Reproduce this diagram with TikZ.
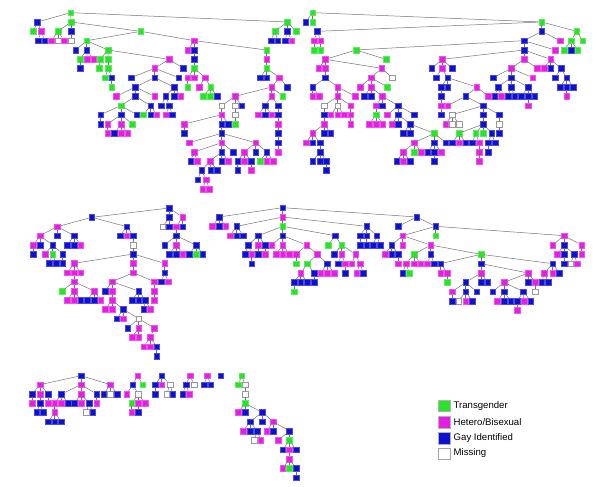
\documentclass[tikz,border=0pt]{standalone}
\usepackage{fontspec}
\setmainfont{Liberation Sans}
\definecolor{cG}{RGB}{40,228,40}
\definecolor{cM}{RGB}{230,30,228}
\definecolor{cB}{RGB}{15,15,210}
\definecolor{edgec}{RGB}{115,115,115}
\tikzset{
 sq/.style={rectangle, minimum size=5.7pt, inner sep=0pt, line width=0.35pt},
 nG/.style={sq, fill=cG, draw=cG!75!white},
 nM/.style={sq, fill=cM, draw=cM!75!white},
 nB/.style={sq, fill=cB, draw=cB!75!white},
 nW/.style={sq, fill=white, draw=gray!80},
 ed/.style={draw=edgec, line width=0.5pt},
 lgbox/.style={rectangle, minimum size=11.5pt, inner sep=0pt, line width=0.4pt},
 lgtext/.style={anchor=west, inner sep=0pt, font=\fontsize{9.6}{11}\selectfont}
}
\newcommand\Rt[3]{\node[n#1] (\pfx#2x#3) at (#2,#3) {};}
\newcommand\Kd[5]{\node[n#1] (\pfx#2x#3) at (#2,#3) {};\draw[ed] (\pfx#4x#5) -- (\pfx#2x#3);}
\newcommand\Xk[4]{\node[n#1] (\pfx#2x#3) at (#2,#3) {};\draw[ed] (#4) -- (\pfx#2x#3);}
\begin{document}
\begin{tikzpicture}
\useasboundingbox (0pt,0pt) rectangle (600pt,-487pt);
% ---------------- tree 1 ----------------
\begin{scope}[shift={(0pt,0pt)},x=0.33333pt,y=-0.33333pt]
\def\pfx{a}
\Rt{G}{212}{38}
\Kd{B}{112}{66}{212}{38}
\Kd{G}{100}{94}{112}{66}
\Kd{M}{124}{94}{112}{66}
\Kd{B}{114}{122}{124}{94}
\Kd{B}{134}{122}{124}{94}
\Kd{G}{213}{66}{212}{38}
\Kd{G}{174}{94}{213}{66}
\Kd{M}{154}{122}{174}{94}
\Kd{W}{174}{122}{174}{94}
\Kd{M}{193}{122}{174}{94}
\Kd{B}{213}{94}{213}{66}
\Kd{W}{213}{122}{213}{94}
\Kd{G}{422}{94}{213}{66}
\Kd{G}{260}{122}{422}{94}
\Kd{B}{227}{150}{260}{122}
\Kd{B}{260}{150}{260}{122}
\Kd{G}{240}{178}{260}{150}
\Kd{B}{240}{205}{240}{178}
\Kd{M}{262}{178}{260}{150}
\Kd{M}{281}{178}{260}{150}
\Kd{G}{324}{150}{260}{122}
\Kd{G}{300}{178}{324}{150}
\Kd{G}{298}{205}{300}{178}
\Kd{G}{325}{178}{324}{150}
\Kd{G}{325}{205}{325}{178}
\Kd{G}{315}{233}{325}{205}
\Kd{B}{335}{233}{325}{205}
\Kd{G}{335}{261}{335}{233}
\Kd{M}{507}{178}{324}{150}
\Kd{M}{464}{205}{507}{178}
\Kd{B}{393}{233}{464}{205}
\Kd{B}{464}{233}{464}{205}
\Kd{B}{406}{261}{464}{233}
\Kd{M}{349}{289}{406}{261}
\Kd{B}{406}{289}{406}{261}
\Kd{G}{363}{317}{406}{289}
\Kd{B}{302}{344}{363}{317}
\Kd{B}{302}{372}{302}{344}
\Kd{B}{363}{344}{363}{317}
\Kd{M}{323}{372}{363}{344}
\Kd{M}{323}{400}{323}{372}
\Kd{M}{363}{372}{363}{344}
\Kd{B}{343}{400}{363}{372}
\Kd{M}{363}{400}{363}{372}
\Kd{M}{383}{400}{363}{372}
\Kd{G}{397}{372}{363}{344}
\Kd{B}{410}{344}{363}{317}
\Kd{B}{452}{317}{406}{289}
\Kd{G}{430}{344}{452}{317}
\Kd{B}{452}{344}{452}{317}
\Kd{M}{470}{344}{452}{317}
\Kd{M}{464}{289}{406}{261}
\Kd{B}{522}{261}{464}{233}
\Kd{B}{497}{289}{522}{261}
\Kd{B}{484}{317}{497}{289}
\Kd{B}{508}{317}{497}{289}
\Kd{M}{498}{344}{508}{317}
\Kd{B}{517}{344}{508}{317}
\Kd{B}{522}{289}{522}{261}
\Kd{M}{542}{289}{522}{261}
\Kd{B}{536}{233}{464}{205}
\Kd{B}{550}{205}{507}{178}
\Kd{M}{583}{122}{422}{94}
\Kd{M}{563}{150}{583}{122}
\Kd{B}{583}{150}{583}{122}
\Kd{B}{583}{178}{583}{150}
\Kd{G}{583}{205}{583}{178}
\Kd{M}{563}{233}{583}{205}
\Kd{G}{563}{261}{563}{233}
\Kd{M}{583}{233}{583}{205}
\Kd{M}{615}{233}{583}{205}
\Kd{M}{597}{261}{615}{233}
\Kd{G}{632}{261}{615}{233}
\Kd{G}{610}{289}{632}{261}
\Kd{G}{630}{289}{632}{261}
\Kd{B}{651}{289}{632}{261}
\Kd{G}{800}{150}{583}{122}
\Kd{M}{800}{178}{800}{150}
\Kd{G}{800}{205}{800}{178}
\Kd{B}{780}{233}{800}{205}
\Kd{B}{800}{233}{800}{205}
\Kd{M}{838}{233}{800}{205}
\Kd{M}{815}{261}{838}{233}
\Kd{B}{862}{261}{838}{233}
\Kd{M}{705}{289}{815}{261}
\Kd{M}{815}{289}{815}{261}
\Kd{G}{848}{289}{815}{261}
\Kd{B}{795}{317}{815}{289}
\Kd{B}{835}{317}{815}{289}
\Kd{M}{775}{344}{795}{317}
\Kd{B}{795}{344}{795}{317}
\Kd{M}{815}{344}{795}{317}
\Kd{B}{835}{344}{835}{317}
\Kd{M}{835}{372}{835}{344}
\Kd{B}{835}{400}{835}{372}
\Kd{B}{835}{428}{835}{400}
\Kd{M}{835}{456}{835}{428}
\Kd{W}{665}{317}{705}{289}
\Kd{W}{705}{317}{705}{289}
\Kd{B}{725}{317}{705}{289}
\Kd{W}{705}{344}{705}{317}
\Kd{G}{705}{372}{705}{344}
\Kd{M}{665}{344}{665}{317}
\Kd{M}{553}{372}{665}{344}
\Kd{B}{553}{400}{553}{372}
\Kd{B}{665}{372}{665}{344}
\Kd{B}{685}{372}{665}{344}
\Kd{B}{665}{400}{665}{372}
\Kd{M}{567}{428}{665}{400}
\Kd{M}{665}{428}{665}{400}
\Kd{M}{767}{428}{665}{400}
\Kd{M}{582}{456}{665}{428}
\Kd{B}{572}{483}{582}{456}
\Kd{M}{592}{483}{582}{456}
\Kd{B}{665}{456}{665}{428}
\Kd{B}{700}{456}{665}{428}
\Kd{M}{630}{483}{665}{456}
\Kd{B}{665}{483}{665}{456}
\Kd{M}{685}{483}{665}{456}
\Kd{B}{605}{511}{630}{483}
\Kd{B}{632}{511}{630}{483}
\Kd{B}{652}{511}{630}{483}
\Kd{B}{593}{539}{605}{511}
\Kd{M}{618}{539}{605}{511}
\Kd{M}{608}{567}{618}{539}
\Kd{M}{628}{567}{618}{539}
\Kd{M}{733}{456}{767}{428}
\Kd{B}{767}{456}{767}{428}
\Kd{B}{800}{456}{767}{428}
\Kd{B}{713}{483}{733}{456}
\Kd{M}{733}{483}{733}{456}
\Kd{B}{753}{483}{733}{456}
\Kd{B}{713}{511}{713}{483}
\Kd{M}{753}{511}{753}{483}
\Kd{G}{780}{483}{800}{456}
\Kd{M}{800}{483}{800}{456}
\Kd{M}{820}{483}{800}{456}
\Kd{G}{862}{66}{212}{38}
\Kd{G}{825}{94}{862}{66}
\Kd{B}{813}{122}{825}{94}
\Kd{B}{833}{122}{825}{94}
\Kd{B}{862}{94}{862}{66}
\Kd{B}{855}{122}{862}{94}
\Kd{M}{875}{122}{862}{94}
\Kd{G}{888}{94}{862}{66}
\end{scope}
% ---------------- tree 2 ----------------
\begin{scope}[shift={(300pt,0pt)},x=0.33333pt,y=-0.33333pt]
\def\pfx{b}
\Rt{G}{38}{38}
\Kd{B}{17}{66}{38}{38}
\Kd{G}{38}{66}{38}{38}
\Kd{G}{725}{66}{38}{38}
\Kd{B}{52}{94}{725}{66}
\Kd{M}{42}{122}{52}{94}
\Kd{M}{62}{122}{52}{94}
\Kd{G}{42}{150}{42}{122}
\Kd{G}{62}{150}{62}{122}
\Kd{B}{725}{94}{725}{66}
\Kd{B}{672}{122}{725}{94}
\Kd{M}{780}{122}{725}{94}
\Kd{G}{830}{94}{725}{66}
\Kd{G}{813}{122}{830}{94}
\Kd{G}{848}{122}{830}{94}
\Kd{G}{793}{150}{813}{122}
\Kd{B}{813}{150}{813}{122}
\Kd{G}{833}{150}{813}{122}
\Kd{G}{168}{150}{672}{122}
\Kd{B}{672}{150}{672}{122}
\Kd{M}{765}{150}{672}{122}
\Kd{M}{76}{178}{168}{150}
\Kd{G}{258}{178}{168}{150}
\Kd{M}{56}{205}{76}{178}
\Kd{M}{76}{205}{76}{178}
\Kd{M}{245}{205}{76}{178}
\Kd{B}{76}{233}{76}{205}
\Kd{B}{38}{261}{76}{233}
\Kd{M}{113}{261}{76}{233}
\Kd{M}{38}{289}{38}{261}
\Kd{M}{58}{289}{38}{261}
\Kd{M}{113}{289}{113}{261}
\Kd{M}{166}{289}{113}{261}
\Kd{W}{72}{317}{113}{289}
\Kd{W}{113}{317}{113}{289}
\Kd{M}{152}{317}{113}{289}
\Kd{B}{72}{344}{72}{317}
\Kd{M}{72}{372}{72}{344}
\Kd{M}{38}{400}{72}{372}
\Kd{B}{72}{400}{72}{372}
\Kd{B}{92}{400}{72}{372}
\Kd{M}{18}{428}{38}{400}
\Kd{B}{38}{428}{38}{400}
\Kd{B}{60}{428}{38}{400}
\Kd{B}{60}{456}{60}{428}
\Kd{B}{38}{483}{60}{456}
\Kd{B}{60}{483}{60}{456}
\Kd{B}{78}{483}{60}{456}
\Kd{B}{78}{511}{78}{483}
\Kd{M}{92}{344}{113}{317}
\Kd{M}{113}{344}{113}{317}
\Kd{M}{132}{344}{113}{317}
\Kd{M}{152}{344}{152}{317}
\Kd{M}{152}{372}{152}{344}
\Kd{W}{276}{233}{245}{205}
\Kd{M}{213}{233}{245}{205}
\Kd{M}{180}{261}{213}{233}
\Kd{M}{213}{261}{213}{233}
\Kd{G}{262}{261}{213}{233}
\Kd{B}{193}{289}{213}{261}
\Kd{B}{213}{289}{213}{261}
\Kd{M}{247}{289}{213}{261}
\Kd{M}{228}{317}{247}{289}
\Kd{B}{247}{317}{247}{289}
\Kd{B}{295}{317}{247}{289}
\Kd{G}{228}{344}{228}{317}
\Kd{M}{208}{372}{228}{344}
\Kd{M}{228}{372}{228}{344}
\Kd{M}{248}{372}{228}{344}
\Kd{M}{262}{344}{295}{317}
\Kd{B}{295}{344}{295}{317}
\Kd{B}{343}{344}{295}{317}
\Kd{M}{276}{372}{295}{344}
\Kd{B}{295}{372}{295}{344}
\Kd{B}{330}{372}{295}{344}
\Kd{B}{310}{400}{330}{372}
\Kd{B}{330}{400}{330}{372}
\Kd{G}{403}{400}{330}{372}
\Kd{M}{343}{428}{403}{400}
\Kd{B}{403}{428}{403}{400}
\Kd{B}{437}{428}{403}{400}
\Kd{M}{310}{456}{343}{428}
\Kd{G}{343}{456}{343}{428}
\Kd{M}{363}{456}{343}{428}
\Kd{B}{290}{483}{310}{456}
\Kd{M}{310}{483}{310}{456}
\Kd{B}{330}{483}{310}{456}
\Kd{B}{383}{456}{403}{428}
\Kd{B}{403}{456}{403}{428}
\Kd{M}{423}{456}{403}{428}
\Kd{B}{403}{483}{403}{456}
\Kd{M}{426}{178}{672}{150}
\Kd{M}{672}{178}{672}{150}
\Kd{M}{752}{178}{672}{150}
\Kd{B}{395}{205}{426}{178}
\Kd{M}{426}{205}{426}{178}
\Kd{B}{457}{205}{426}{178}
\Kd{B}{408}{233}{426}{205}
\Kd{B}{443}{233}{426}{205}
\Kd{B}{423}{261}{443}{233}
\Kd{B}{443}{261}{443}{233}
\Kd{M}{530}{261}{443}{233}
\Kd{B}{423}{289}{423}{261}
\Kd{M}{423}{317}{423}{289}
\Kd{B}{423}{344}{423}{317}
\Kd{B}{497}{289}{530}{261}
\Kd{M}{565}{289}{530}{261}
\Kd{M}{443}{317}{497}{289}
\Kd{B}{550}{317}{497}{289}
\Kd{W}{457}{344}{550}{317}
\Kd{B}{550}{344}{550}{317}
\Kd{B}{598}{344}{550}{317}
\Kd{M}{437}{372}{457}{344}
\Kd{W}{457}{372}{457}{344}
\Kd{W}{477}{372}{457}{344}
\Kd{B}{550}{372}{550}{344}
\Kd{G}{477}{400}{550}{372}
\Kd{G}{527}{400}{550}{372}
\Kd{G}{550}{400}{550}{372}
\Kd{B}{575}{400}{550}{372}
\Kd{B}{457}{428}{477}{400}
\Kd{M}{477}{428}{477}{400}
\Kd{B}{497}{428}{477}{400}
\Kd{B}{517}{428}{527}{400}
\Kd{M}{537}{428}{527}{400}
\Kd{M}{537}{456}{537}{428}
\Kd{M}{537}{483}{537}{456}
\Kd{B}{565}{428}{575}{400}
\Kd{B}{585}{428}{575}{400}
\Kd{B}{565}{456}{565}{428}
\Kd{W}{598}{372}{598}{344}
\Kd{B}{598}{400}{598}{372}
\Kd{M}{633}{205}{672}{178}
\Kd{M}{712}{205}{672}{178}
\Kd{M}{732}{205}{752}{178}
\Kd{B}{752}{205}{752}{178}
\Kd{B}{783}{205}{752}{178}
\Kd{B}{580}{233}{633}{205}
\Kd{B}{633}{233}{633}{205}
\Kd{M}{698}{233}{633}{205}
\Kd{B}{594}{261}{633}{233}
\Kd{B}{633}{261}{633}{233}
\Kd{B}{684}{261}{633}{233}
\Kd{B}{584}{289}{594}{261}
\Kd{M}{604}{289}{594}{261}
\Kd{B}{624}{289}{633}{261}
\Kd{B}{644}{289}{633}{261}
\Kd{B}{664}{289}{684}{261}
\Kd{B}{684}{289}{684}{261}
\Kd{B}{704}{289}{684}{261}
\Kd{M}{684}{317}{684}{289}
\Kd{B}{765}{233}{783}{205}
\Kd{B}{800}{233}{783}{205}
\Kd{B}{780}{261}{800}{233}
\Kd{B}{800}{261}{800}{233}
\Kd{B}{820}{261}{800}{233}
\Kd{M}{800}{289}{800}{261}
\end{scope}
% ---------------- tree 3 ----------------
\begin{scope}[shift={(0pt,-190pt)},x=0.33333pt,y=-0.33333pt]
\def\pfx{c}
\Rt{B}{508}{54}
\Kd{B}{275}{82}{508}{54}
\Kd{M}{172}{110}{275}{82}
\Kd{M}{120}{137}{172}{110}
\Kd{M}{100}{165}{120}{137}
\Kd{B}{100}{192}{100}{165}
\Kd{B}{120}{165}{120}{137}
\Kd{B}{158}{165}{120}{137}
\Kd{M}{135}{192}{158}{165}
\Kd{G}{158}{192}{158}{165}
\Kd{B}{188}{192}{158}{165}
\Kd{B}{148}{220}{158}{192}
\Kd{B}{168}{220}{158}{192}
\Kd{B}{188}{220}{188}{192}
\Kd{B}{172}{137}{172}{110}
\Kd{B}{222}{137}{172}{110}
\Kd{B}{202}{165}{222}{137}
\Kd{B}{222}{165}{222}{137}
\Kd{M}{242}{165}{222}{137}
\Kd{B}{380}{110}{275}{82}
\Kd{B}{360}{137}{380}{110}
\Kd{M}{380}{137}{380}{110}
\Kd{B}{400}{137}{380}{110}
\Kd{W}{400}{165}{400}{137}
\Kd{B}{400}{192}{400}{165}
\Kd{M}{222}{220}{400}{192}
\Kd{M}{202}{248}{222}{220}
\Kd{M}{222}{248}{222}{220}
\Kd{M}{242}{248}{222}{220}
\Kd{M}{222}{275}{222}{248}
\Kd{G}{187}{303}{222}{275}
\Kd{M}{222}{303}{222}{275}
\Kd{M}{282}{303}{222}{275}
\Kd{M}{202}{330}{222}{303}
\Kd{M}{222}{330}{222}{303}
\Kd{B}{242}{330}{222}{303}
\Kd{B}{262}{330}{282}{303}
\Kd{B}{282}{330}{282}{303}
\Kd{M}{302}{330}{282}{303}
\Kd{M}{400}{220}{400}{192}
\Kd{M}{400}{248}{400}{220}
\Kd{M}{336}{275}{400}{248}
\Kd{M}{463}{275}{400}{248}
\Kd{B}{316}{303}{336}{275}
\Kd{M}{336}{303}{336}{275}
\Kd{B}{416}{303}{336}{275}
\Kd{M}{336}{330}{336}{303}
\Kd{M}{316}{358}{336}{330}
\Kd{M}{336}{358}{336}{330}
\Kd{B}{370}{358}{336}{330}
\Kd{B}{350}{386}{370}{358}
\Kd{M}{370}{386}{370}{358}
\Kd{W}{416}{386}{370}{358}
\Kd{B}{383}{414}{416}{386}
\Kd{M}{416}{414}{416}{386}
\Kd{M}{463}{414}{416}{386}
\Kd{M}{396}{442}{416}{414}
\Kd{M}{416}{442}{416}{414}
\Kd{M}{451}{442}{463}{414}
\Kd{M}{431}{470}{451}{442}
\Kd{M}{451}{470}{451}{442}
\Kd{B}{470}{470}{451}{442}
\Kd{B}{470}{498}{470}{470}
\Kd{B}{396}{330}{416}{303}
\Kd{B}{416}{330}{416}{303}
\Kd{B}{436}{330}{416}{303}
\Kd{B}{431}{358}{436}{330}
\Kd{M}{451}{358}{436}{330}
\Kd{M}{463}{303}{463}{275}
\Kd{M}{463}{330}{463}{303}
\Kd{M}{494}{220}{400}{192}
\Kd{B}{494}{248}{494}{220}
\Kd{B}{484}{275}{494}{248}
\Kd{M}{504}{275}{494}{248}
\Kd{B}{508}{82}{508}{54}
\Kd{W}{488}{110}{508}{82}
\Kd{B}{508}{110}{508}{82}
\Kd{M}{548}{82}{508}{54}
\Kd{M}{528}{110}{548}{82}
\Kd{B}{548}{110}{548}{82}
\Kd{B}{528}{137}{528}{110}
\Kd{B}{494}{165}{528}{137}
\Kd{M}{528}{165}{528}{137}
\Kd{B}{588}{165}{528}{137}
\Kd{B}{508}{192}{528}{165}
\Kd{B}{528}{192}{528}{165}
\Kd{M}{548}{192}{528}{165}
\Kd{B}{568}{192}{588}{165}
\Kd{G}{588}{192}{588}{165}
\Kd{B}{608}{192}{588}{165}
\end{scope}
% ---------------- tree 4 ----------------
\begin{scope}[shift={(200pt,-195pt)},x=0.33333pt,y=-0.33333pt]
\def\pfx{d}
\Rt{B}{248}{38}
\Kd{B}{57}{66}{248}{38}
\Kd{M}{37}{94}{57}{66}
\Kd{B}{57}{94}{57}{66}
\Kd{M}{77}{94}{57}{66}
\Kd{M}{248}{66}{248}{38}
\Kd{B}{110}{94}{248}{66}
\Kd{M}{90}{122}{110}{94}
\Kd{B}{110}{122}{110}{94}
\Kd{B}{130}{122}{110}{94}
\Kd{G}{248}{94}{248}{66}
\Kd{B}{175}{122}{248}{94}
\Kd{B}{145}{150}{175}{122}
\Kd{B}{135}{178}{145}{150}
\Kd{M}{155}{178}{145}{150}
\Kd{B}{155}{206}{155}{178}
\Kd{M}{175}{150}{175}{122}
\Kd{B}{175}{178}{175}{150}
\Kd{B}{195}{150}{175}{122}
\Kd{M}{195}{178}{195}{150}
\Kd{B}{248}{122}{248}{94}
\Kd{M}{215}{150}{248}{122}
\Kd{M}{248}{150}{248}{122}
\Kd{M}{228}{178}{248}{150}
\Kd{M}{248}{178}{248}{150}
\Kd{M}{268}{178}{248}{150}
\Kd{M}{320}{150}{248}{122}
\Kd{M}{288}{178}{320}{150}
\Kd{G}{288}{206}{288}{178}
\Kd{M}{352}{178}{320}{150}
\Kd{G}{322}{206}{352}{178}
\Kd{M}{302}{234}{322}{206}
\Kd{B}{282}{262}{302}{234}
\Kd{B}{302}{262}{302}{234}
\Kd{B}{322}{262}{302}{234}
\Kd{G}{282}{290}{282}{262}
\Kd{B}{342}{234}{322}{206}
\Kd{B}{342}{262}{342}{234}
\Kd{B}{382}{206}{352}{178}
\Kd{M}{362}{234}{382}{206}
\Kd{M}{382}{234}{382}{206}
\Kd{M}{402}{234}{382}{206}
\Kd{B}{405}{122}{248}{94}
\Kd{G}{385}{150}{405}{122}
\Kd{G}{425}{150}{405}{122}
\Kd{B}{402}{178}{425}{150}
\Kd{M}{425}{178}{425}{150}
\Kd{M}{467}{178}{425}{150}
\Kd{B}{415}{206}{425}{178}
\Kd{M}{435}{206}{425}{178}
\Kd{B}{435}{234}{435}{206}
\Kd{M}{455}{206}{467}{178}
\Kd{M}{480}{206}{467}{178}
\Kd{M}{470}{234}{480}{206}
\Kd{B}{490}{234}{480}{206}
\Kd{B}{500}{94}{248}{66}
\Kd{B}{480}{122}{500}{94}
\Kd{B}{500}{122}{500}{94}
\Kd{B}{530}{122}{500}{94}
\Kd{B}{480}{150}{480}{122}
\Kd{B}{500}{150}{500}{122}
\Kd{B}{520}{150}{530}{122}
\Kd{B}{540}{150}{530}{122}
\end{scope}
\begin{scope}[shift={(390pt,-195pt)},x=0.33333pt,y=-0.33333pt]
\def\pfx{e}
\Xk{B}{80}{66}{d248x38}
\Kd{B}{25}{94}{80}{66}
\Kd{B}{137}{94}{80}{66}
\Kd{M}{38}{122}{137}{94}
\Kd{G}{137}{122}{137}{94}
\Kd{M}{522}{122}{137}{94}
\Kd{B}{5}{150}{38}{122}
\Kd{M}{38}{150}{38}{122}
\Kd{M}{122}{150}{38}{122}
\Kd{M}{-15}{178}{5}{150}
\Kd{B}{5}{178}{5}{150}
\Kd{B}{25}{178}{5}{150}
\Kd{M}{25}{206}{25}{178}
\Kd{G}{72}{178}{122}{150}
\Kd{B}{122}{178}{122}{150}
\Kd{G}{273}{178}{122}{150}
\Kd{M}{48}{206}{72}{178}
\Kd{M}{72}{206}{72}{178}
\Kd{M}{92}{206}{72}{178}
\Kd{B}{38}{234}{48}{206}
\Kd{G}{58}{234}{48}{206}
\Kd{M}{112}{206}{122}{178}
\Kd{B}{132}{206}{122}{178}
\Kd{B}{152}{206}{273}{178}
\Kd{M}{152}{234}{152}{206}
\Kd{M}{172}{234}{152}{206}
\Kd{G}{172}{262}{172}{234}
\Kd{B}{273}{206}{273}{178}
\Kd{B}{488}{206}{273}{178}
\Kd{M}{273}{234}{273}{206}
\Kd{M}{415}{234}{273}{206}
\Kd{B}{227}{262}{273}{234}
\Kd{B}{273}{262}{273}{234}
\Kd{B}{293}{262}{273}{234}
\Kd{M}{186}{290}{227}{262}
\Kd{B}{227}{290}{227}{262}
\Kd{B}{260}{290}{227}{262}
\Kd{B}{186}{318}{186}{290}
\Kd{W}{206}{318}{227}{290}
\Kd{M}{227}{318}{227}{290}
\Kd{B}{247}{318}{227}{290}
\Kd{M}{342}{262}{415}{234}
\Kd{B}{415}{262}{415}{234}
\Kd{M}{435}{262}{415}{234}
\Kd{B}{308}{290}{342}{262}
\Kd{B}{342}{290}{342}{262}
\Kd{B}{400}{290}{342}{262}
\Kd{M}{322}{318}{342}{290}
\Kd{B}{342}{318}{342}{290}
\Kd{B}{362}{318}{342}{290}
\Kd{B}{382}{318}{400}{290}
\Kd{M}{402}{318}{400}{290}
\Kd{B}{422}{318}{400}{290}
\Kd{M}{382}{346}{382}{318}
\Kd{W}{435}{290}{435}{262}
\Kd{M}{463}{234}{488}{206}
\Kd{M}{488}{234}{488}{206}
\Kd{B}{508}{234}{488}{206}
\Kd{B}{455}{262}{463}{234}
\Kd{B}{475}{262}{463}{234}
\Kd{M}{488}{150}{522}{122}
\Kd{B}{522}{150}{522}{122}
\Kd{M}{575}{150}{522}{122}
\Kd{M}{502}{178}{522}{150}
\Kd{B}{522}{178}{522}{150}
\Kd{B}{552}{178}{522}{150}
\Kd{B}{522}{206}{522}{178}
\Kd{W}{542}{206}{552}{178}
\Kd{M}{562}{206}{552}{178}
\Kd{M}{575}{178}{575}{150}
\end{scope}
% ---------------- bottom trees ----------------
\begin{scope}[shift={(0pt,-350pt)},x=0.33333pt,y=-0.33333pt]
\def\pfx{f}
\Rt{B}{243}{77}
\Kd{M}{120}{104}{243}{77}
\Kd{B}{96}{132}{120}{104}
\Kd{M}{96}{160}{96}{132}
\Kd{M}{120}{132}{120}{104}
\Kd{B}{120}{160}{120}{132}
\Kd{B}{110}{187}{120}{160}
\Kd{B}{130}{187}{120}{160}
\Kd{B}{145}{132}{120}{104}
\Kd{M}{145}{160}{145}{132}
\Kd{M}{243}{104}{243}{77}
\Kd{B}{184}{132}{243}{104}
\Kd{M}{164}{160}{184}{132}
\Kd{M}{164}{187}{164}{160}
\Kd{B}{145}{215}{164}{187}
\Kd{B}{164}{215}{164}{187}
\Kd{B}{184}{215}{164}{187}
\Kd{M}{184}{160}{184}{132}
\Kd{B}{204}{160}{184}{132}
\Kd{M}{243}{132}{243}{104}
\Kd{B}{223}{160}{243}{132}
\Kd{M}{243}{160}{243}{132}
\Kd{B}{268}{160}{243}{132}
\Kd{W}{258}{187}{268}{160}
\Kd{B}{278}{187}{268}{160}
\Kd{B}{290}{132}{243}{104}
\Kd{M}{290}{160}{290}{132}
\Kd{M}{331}{104}{243}{77}
\Kd{B}{311}{132}{331}{104}
\Kd{W}{331}{132}{331}{104}
\Kd{B}{351}{132}{331}{104}
\Rt{M}{413}{77}
\Kd{B}{398}{104}{413}{77}
\Kd{G}{428}{104}{413}{77}
\Kd{M}{380}{132}{398}{104}
\Kd{W}{415}{132}{398}{104}
\Kd{G}{395}{160}{415}{132}
\Kd{M}{415}{160}{415}{132}
\Kd{M}{435}{160}{415}{132}
\Kd{M}{395}{187}{395}{160}
\Kd{B}{415}{187}{415}{160}
\Rt{B}{485}{77}
\Kd{B}{465}{104}{485}{77}
\Kd{M}{485}{104}{485}{77}
\Kd{W}{510}{104}{485}{77}
\Kd{B}{465}{132}{465}{104}
\Kd{W}{500}{132}{510}{104}
\Kd{B}{518}{132}{510}{104}
\Rt{M}{570}{77}
\Kd{B}{558}{104}{570}{77}
\Kd{W}{582}{104}{570}{77}
\Kd{B}{548}{132}{558}{104}
\Kd{M}{568}{132}{558}{104}
\Rt{M}{622}{77}
\Kd{B}{612}{104}{622}{77}
\Kd{B}{632}{104}{622}{77}
\Rt{B}{662}{77}
\Rt{G}{725}{77}
\Kd{G}{715}{104}{725}{77}
\Kd{W}{735}{104}{725}{77}
\Kd{W}{735}{132}{735}{104}
\Kd{G}{735}{160}{735}{132}
\Kd{M}{715}{187}{735}{160}
\Kd{B}{735}{187}{735}{160}
\Kd{B}{787}{187}{735}{160}
\Kd{B}{750}{215}{787}{187}
\Kd{B}{787}{215}{787}{187}
\Kd{M}{820}{215}{787}{187}
\Kd{M}{730}{243}{750}{215}
\Kd{B}{750}{243}{750}{215}
\Kd{B}{772}{243}{750}{215}
\Kd{W}{762}{271}{772}{243}
\Kd{M}{782}{271}{772}{243}
\Kd{M}{800}{243}{820}{215}
\Kd{B}{820}{243}{820}{215}
\Kd{B}{868}{243}{820}{215}
\Kd{M}{835}{271}{868}{243}
\Kd{G}{868}{271}{868}{243}
\Kd{B}{848}{299}{868}{271}
\Kd{M}{868}{299}{868}{271}
\Kd{B}{888}{299}{868}{271}
\Kd{M}{868}{327}{868}{299}
\Kd{M}{848}{355}{868}{327}
\Kd{G}{868}{355}{868}{327}
\Kd{B}{888}{355}{868}{327}
\Kd{B}{888}{383}{888}{355}
\end{scope}
% ---------------- legend ----------------
\node[lgbox, fill=cG, draw=gray!60] (k1) at (444pt,-405.7pt) {};
\node[lgbox, fill=cM, draw=gray!60] (k2) at (444pt,-422pt) {};
\node[lgbox, fill=cB, draw=gray!60] (k3) at (444pt,-438.2pt) {};
\node[lgbox, fill=white, draw=gray!70] (k4) at (444pt,-453.5pt) {};
\node[lgtext] (t1) at (453.5pt,-405.7pt) {Transgender};
\node[lgtext] (t2) at (453.5pt,-422pt) {Hetero/Bisexual};
\node[lgtext] (t3) at (453.5pt,-438.2pt) {Gay Identified};
\node[lgtext] (t4) at (453.5pt,-453.5pt) {Missing};
\end{tikzpicture}
\end{document}
